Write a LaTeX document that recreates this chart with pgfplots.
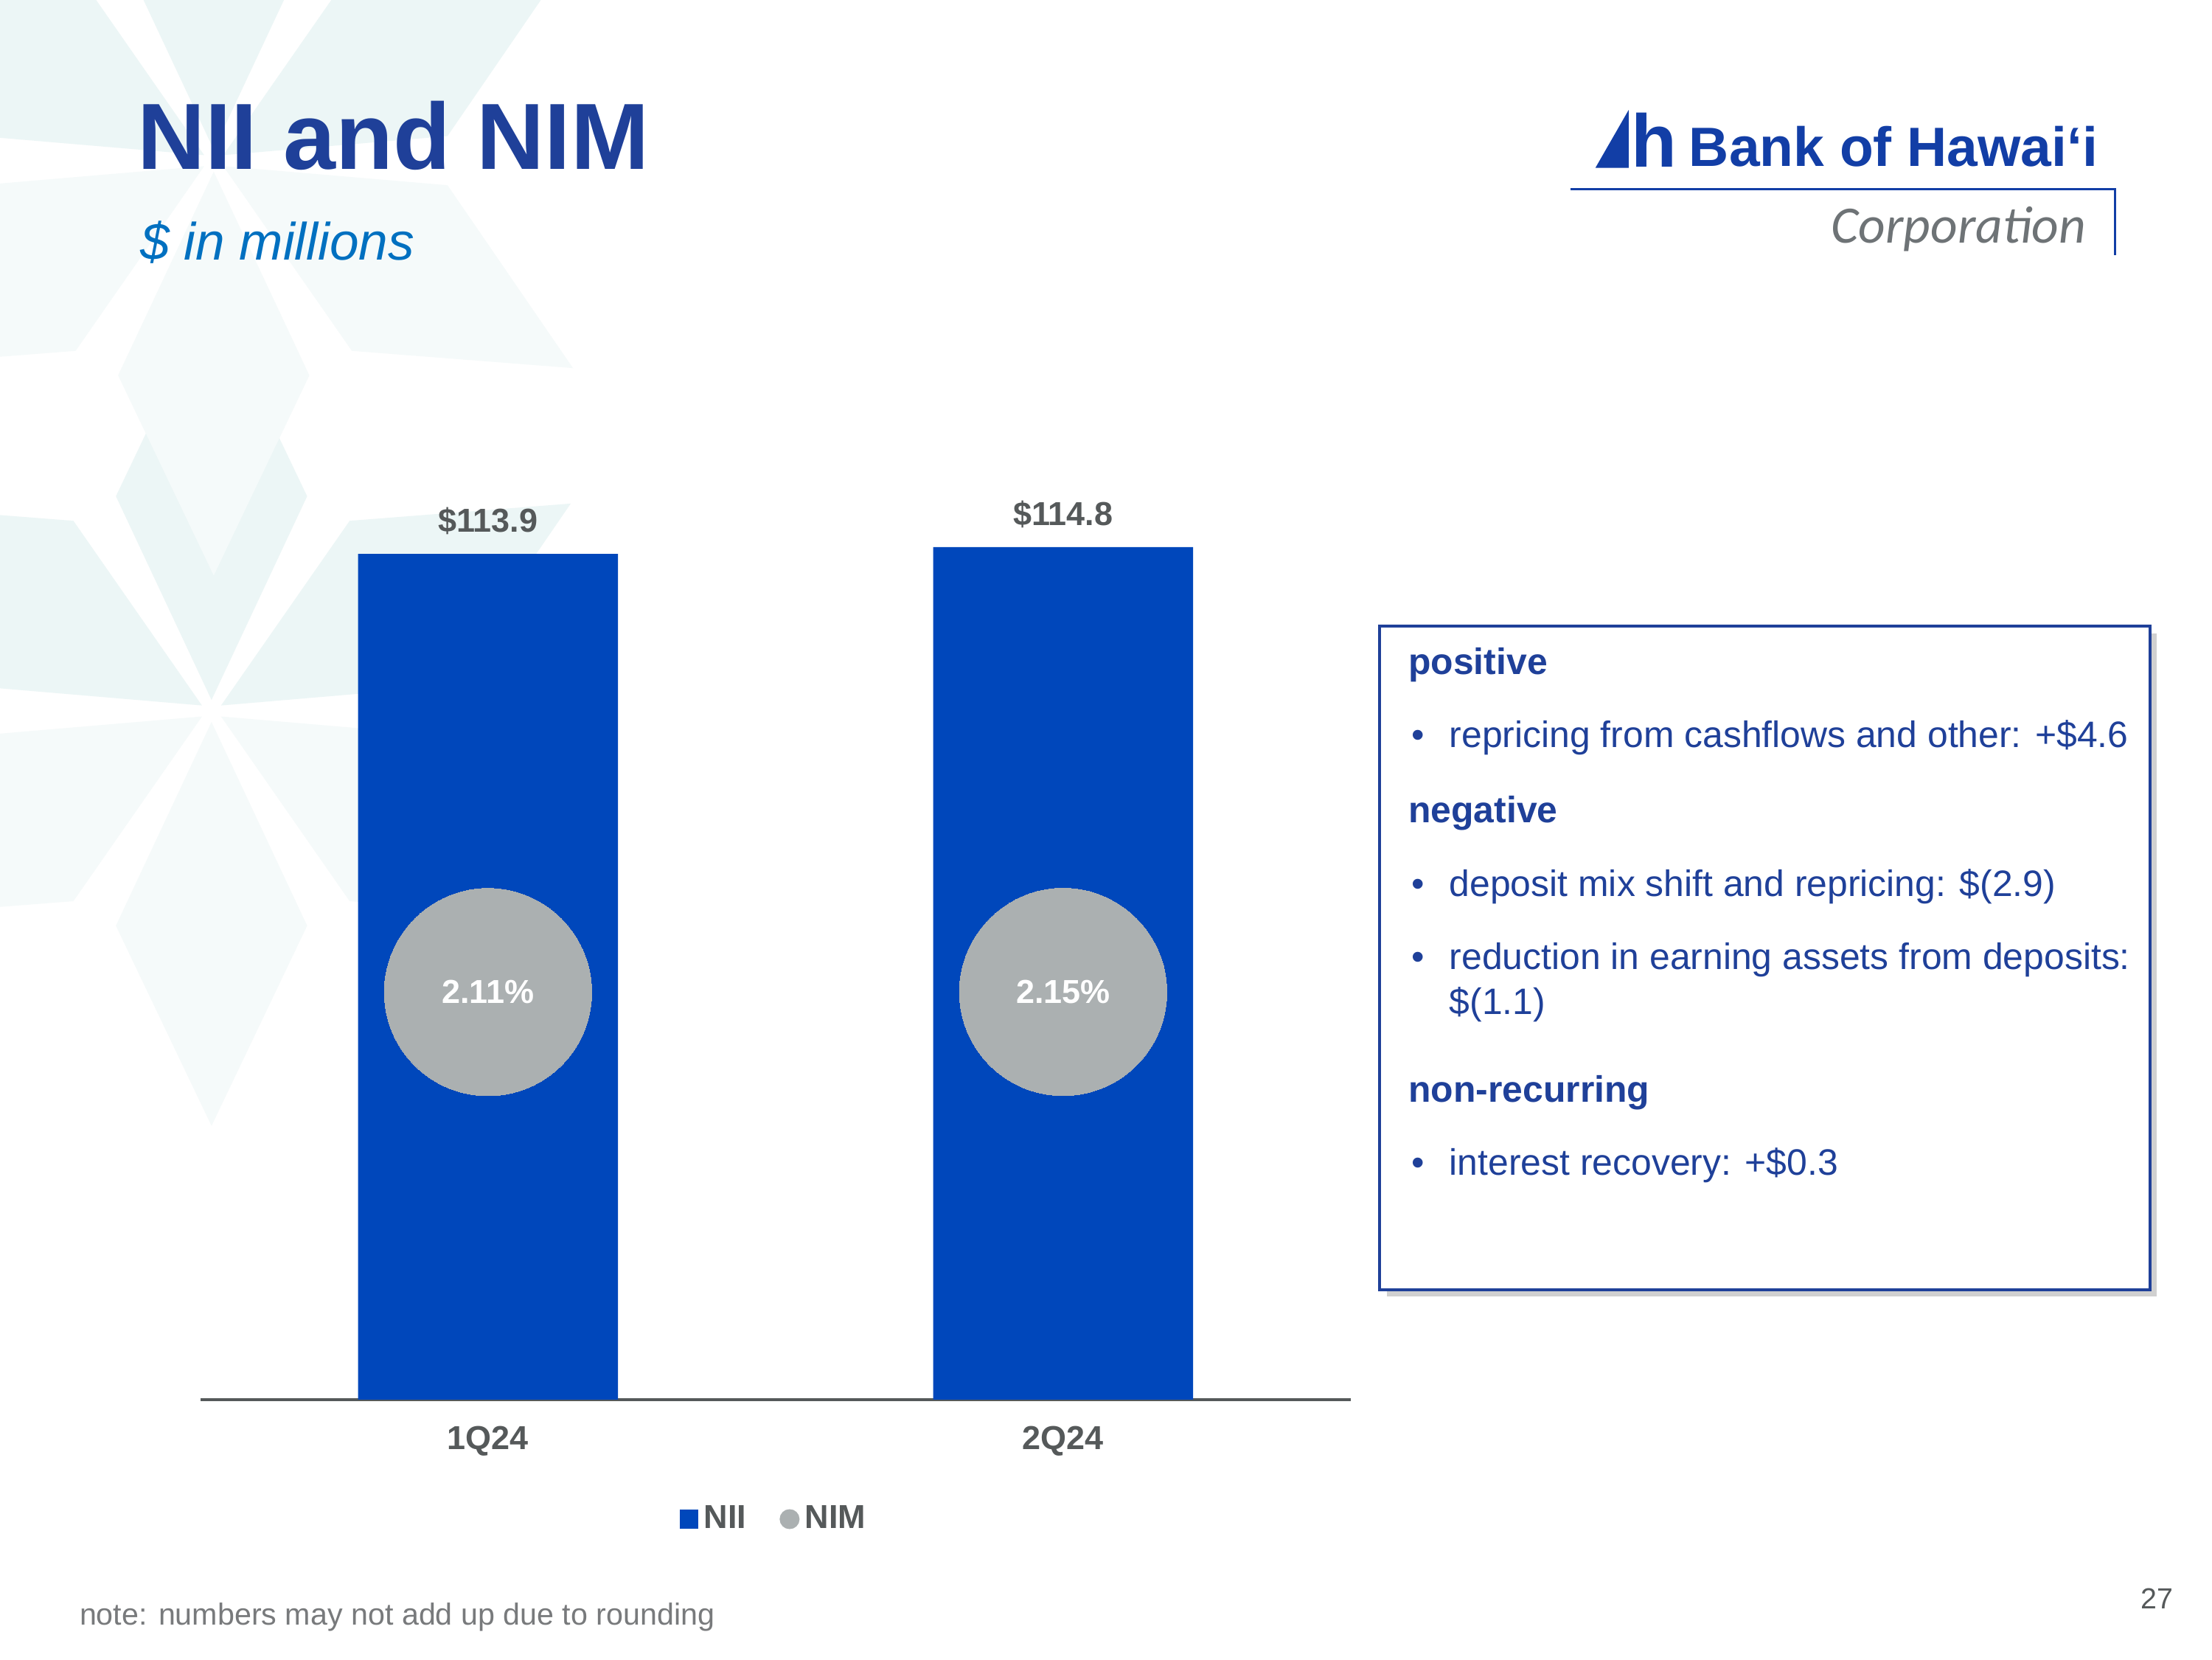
\documentclass[border=0pt]{standalone}
\usepackage{pgfplots}
\pgfplotsset{compat=1.18}
\usepackage{fontspec}
\setmainfont{Liberation Sans}
\newfontfamily\carlito{Carlito}
\definecolor{nii}{RGB}{0,71,187}
\definecolor{nim}{RGB}{171,176,177}
\definecolor{txtgray}{RGB}{85,89,90}
\definecolor{navy}{RGB}{31,64,153}
\definecolor{logoblue}{RGB}{18,62,166}
\definecolor{subblue}{RGB}{0,112,192}
\definecolor{bgstar}{RGB}{236,246,246}
\definecolor{bgstarb}{RGB}{245,250,250}
\pgfplotsset{/pgf/number format/assume math mode=true}
\begin{document}
\begin{tikzpicture}[x=1pt,y=1pt]
\path[use as bounding box] (0,0) rectangle (800,600);
\fill[white] (0,0) rectangle (800,600);
\begin{scope}
\clip (0,0) rectangle (800,600);
\foreach \cx/\cy in {76.5/342.9, 77.3/541.9}{
  \foreach \a in {30,90,150}{
    \fill[bgstar, shift={(\cx,\cy)}] (\a:4) -- ({\a+24}:85) -- (\a:150) -- ({\a-24}:85) -- cycle;
  }
  \foreach \a in {210,270,330}{
    \fill[bgstarb, shift={(\cx,\cy)}] (\a:4) -- ({\a+24}:85) -- (\a:150) -- ({\a-24}:85) -- cycle;
  }
}
\end{scope}

\begin{axis}[
  at={(72.5pt,93.9pt)}, anchor=south west, scale only axis,
  width=416pt, height=375.9pt,
  xmin=-0.5, xmax=1.5, ymin=0, ymax=140,
  axis x line*=bottom, axis y line=none,
  x axis line style={txtgray, line width=1pt, -},
  xtick=data, xticklabels={1Q24,2Q24}, major tick length=0pt,
  xticklabel style={font=\bfseries\fontsize{12}{14}\selectfont, text=txtgray, yshift=-6pt},
  ytick=\empty,
  ybar, bar width=94pt,
  nodes near coords={\$\pgfmathprintnumber[fixed,fixed zerofill,precision=1]{\pgfplotspointmeta}},
  every node near coord/.append style={font=\bfseries\fontsize{12}{14}\selectfont, text=txtgray, yshift=3.5pt},
  legend style={at={(0.5,-0.115)}, anchor=center, draw=none, fill=none, legend columns=2,
    font=\bfseries\fontsize{12}{14}\selectfont, text=txtgray,
    /tikz/every even column/.append style={column sep=10pt}},
  legend cell align=left,
]
\addplot[fill=nii, draw=none, legend image code/.code={\fill[nii] (0pt,-3.4pt) rectangle (6.8pt,3.4pt);}] coordinates {(0,113.9) (1,114.8)};
\addlegendentry{NII}
\addlegendimage{legend image code/.code={\fill[nim] (3.4pt,0pt) circle (3.4pt);}}
\addlegendentry{NIM}
\end{axis}

\begin{axis}[
  at={(72.5pt,93.9pt)}, anchor=south west, scale only axis,
  width=416pt, height=375.9pt,
  xmin=-0.5, xmax=1.5, ymin=-100, ymax=160.5,
  hide axis, clip=false,
]
\addplot[only marks, color=nim, mark=*, mark size=37.5pt, mark options={fill=nim, draw=nim, line width=0pt},
  nodes near coords={\pgfmathprintnumber[fixed,fixed zerofill,precision=2]{\pgfplotspointmeta}\%},
  nodes near coords align=center,
  every node near coord/.append style={font=\bfseries\fontsize{12}{14}\selectfont, text=white}]
  coordinates {(0,2.11) (1,2.15)};
\end{axis}

% title
\node[anchor=base west, inner sep=0, text=navy, font=\bfseries\fontsize{34}{40}\selectfont] at (49.5,538.8) {NII and NIM};
\node[anchor=base west, inner sep=0, text=subblue, font=\itshape\fontsize{19}{23}\selectfont] at (50.5,506.1) {\$ in millions};

% logo
\fill[logoblue] (577.0,539.3) -- (589.0,560.2) -- (589.0,539.3) -- cycle;
\node[anchor=base west, inner sep=0, text=logoblue, font=\bfseries\fontsize{27}{30}\selectfont] at (589.8,539.6) {h};
\node[anchor=base west, inner sep=0, text=logoblue, font=\bfseries\fontsize{20}{24}\selectfont] at (610.7,539.8) {Bank of Hawai‘i};
\draw[logoblue, line width=0.8pt] (567.9,531.6) -- (764.8,531.6) -- (764.8,507.7);
\node[anchor=base east, inner sep=0, text={rgb,255:red,110;green,115;blue,118}, font=\carlito\itshape\fontsize{19}{22}\selectfont] at (754.6,512.2) {Corporation};

% box
\fill[black!30, opacity=0.6] (501.5,131.2) rectangle (780,371);
\filldraw[fill=white, draw=navy, line width=1pt] (499,133.7) rectangle (777.5,373.5);
\begin{scope}[every node/.style={anchor=base west, inner sep=0, text=navy, font=\fontsize{13.3}{16}\selectfont}]
\node[font=\bfseries\fontsize{13.3}{16}\selectfont] at (509.2,356.0) {positive};
\node at (510.2,329.6) {•};
\node at (524.0,329.6) {repricing from cashflows and other: +\$4.6};
\node[font=\bfseries\fontsize{13.3}{16}\selectfont] at (509.2,302.6) {negative};
\node at (510.2,275.9) {•};
\node at (524.0,275.9) {deposit mix shift and repricing: \$(2.9)};
\node at (510.2,249.5) {•};
\node at (524.0,249.5) {reduction in earning assets from deposits:};
\node at (524.0,233.2) {\$(1.1)};
\node[font=\bfseries\fontsize{13.3}{16}\selectfont] at (509.2,201.5) {non-recurring};
\node at (510.2,175.0) {•};
\node at (524.0,175.0) {interest recovery: +\$0.3};
\end{scope}

% footer
\node[anchor=base west, inner sep=0, text={rgb,255:red,120;green,122;blue,124}, font=\fontsize{11}{13}\selectfont] at (28.6,12.3) {note: numbers may not add up due to rounding};
\node[anchor=base east, inner sep=0, text=txtgray, font=\fontsize{10.5}{12}\selectfont] at (786.2,18.4) {27};
\end{tikzpicture}
\end{document}
